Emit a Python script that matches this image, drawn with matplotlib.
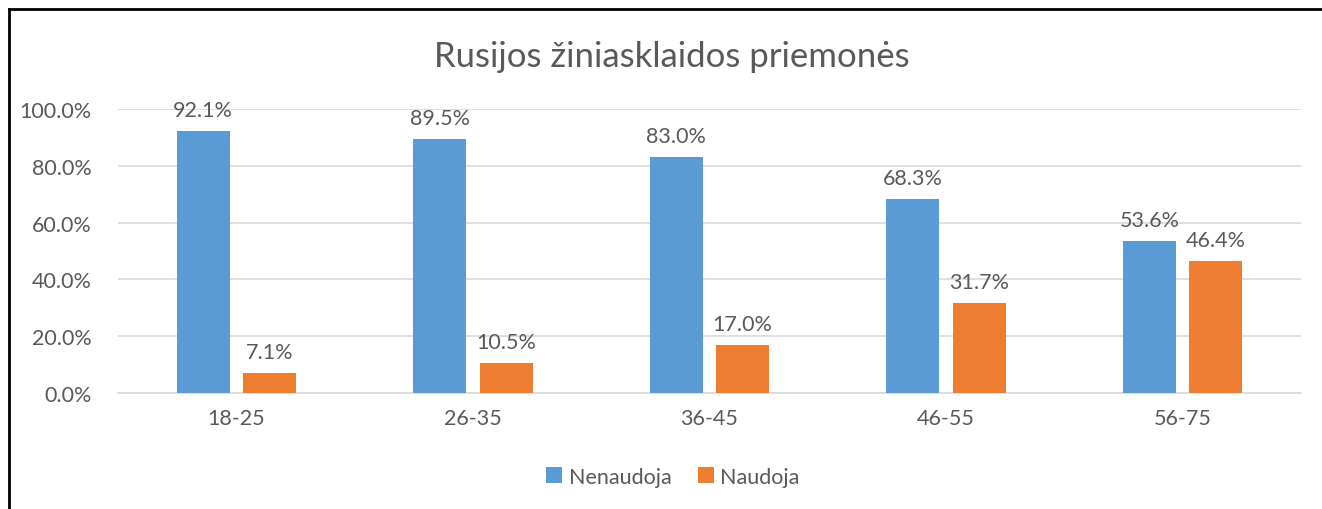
import numpy as np
import matplotlib.pyplot as plt
from matplotlib.lines import Line2D

# Duomenys
groups = ['18-25', '26-35', '36-45', '46-55', '56-75']
nenaudoja = [92.1, 89.5, 83.0, 68.3, 53.6]
naudoja = [7.1, 10.5, 17.0, 31.7, 46.4]
y_ticks = [0, 20, 40, 60, 80, 100]

plt.rcParams['font.family'] = ['Lato', 'DejaVu Sans']
txt = '#595959'
blue = '#5B9BD5'
orange = '#ED7D31'

fig = plt.figure(figsize=(13.22, 5.10), dpi=100)
ax = fig.add_axes([0.0893, 0.2275, 0.8948, 0.5569])

x = np.arange(len(groups))
w = 0.224
b1 = ax.bar(x - 0.14, nenaudoja, w, color=blue, label='Nenaudoja', zorder=3)
b2 = ax.bar(x + 0.14, naudoja, w, color=orange, label='Naudoja', zorder=3)

for bars, vals in [(b1, nenaudoja), (b2, naudoja)]:
    for r, v in zip(bars, vals):
        ax.annotate(f'{v:.1f}%', (r.get_x() + r.get_width() / 2, v),
                    xytext=(0, 8), textcoords='offset points',
                    ha='center', va='bottom', fontsize=15.5, color=txt)

ax.set_xlim(-0.5, len(groups) - 0.5)
ax.set_ylim(0, 100)
ax.set_yticks(y_ticks)
ax.set_yticklabels([f'{t:.1f}%' for t in y_ticks])
ax.set_xticks(x)
ax.set_xticklabels(groups)
ax.tick_params(axis='both', length=0, labelsize=15.5, labelcolor=txt)
ax.tick_params(axis='y', pad=19)
ax.tick_params(axis='x', pad=11)
ax.grid(axis='y', color='#D9D9D9', linewidth=1.2, zorder=0)
for s in ['top', 'right', 'left']:
    ax.spines[s].set_visible(False)
ax.spines['bottom'].set_color('#D9D9D9')
ax.spines['bottom'].set_linewidth(1.2)

fig.text(0.508, 0.888, 'Rusijos žiniasklaidos priemonės', ha='center', va='center',
         fontsize=25, color=txt)

fig.legend(loc='center', bbox_to_anchor=(0.509, 0.063), ncol=2, frameon=False,
           fontsize=15.5, labelcolor=txt, handlelength=0.75, handleheight=0.75,
           handletextpad=0.3, columnspacing=1.2)

# rėmelis
fig.add_artist(Line2D([0.0065, 0.0065], [0, 0.98], transform=fig.transFigure,
                      color='black', linewidth=2))
fig.add_artist(Line2D([0.0065, 1.0], [0.98, 0.98], transform=fig.transFigure,
                      color='black', linewidth=2))

fig.savefig('out.png', dpi=100)
